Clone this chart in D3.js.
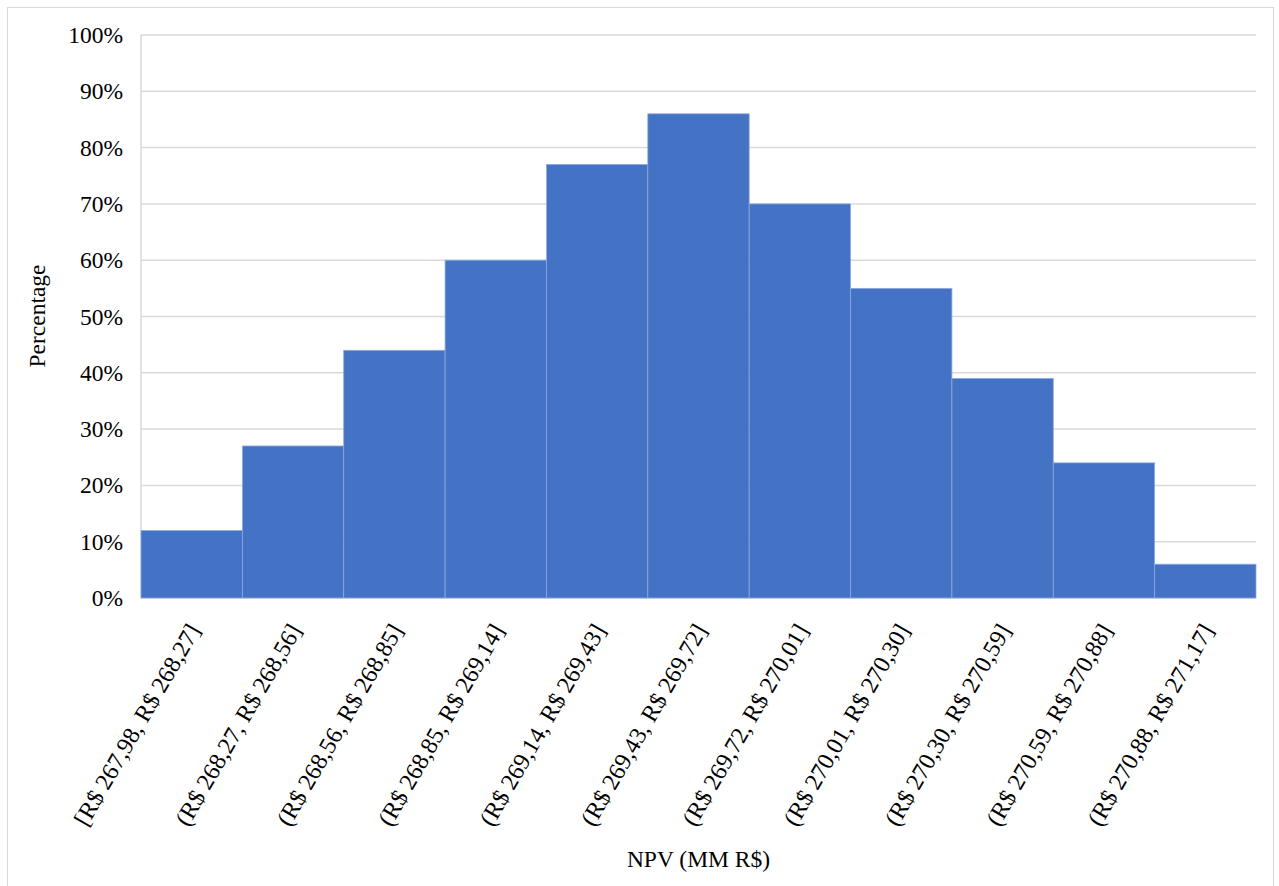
<!DOCTYPE html>
<html>
<head>
<meta charset="utf-8">
<script src="https://cdn.jsdelivr.net/npm/d3@7"></script>
<style>
  html, body { margin: 0; padding: 0; background: #fff; }
  svg text { font-family: "Liberation Serif", "Times New Roman", serif; fill: #000; }
</style>
</head>
<body>
<svg id="chart" width="1279" height="886"></svg>
<script>
// Bin labels (NPV intervals)
const bins = [
  "[R$ 267,98, R$ 268,27]",
  "(R$ 268,27, R$ 268,56]",
  "(R$ 268,56, R$ 268,85]",
  "(R$ 268,85, R$ 269,14]",
  "(R$ 269,14, R$ 269,43]",
  "(R$ 269,43, R$ 269,72]",
  "(R$ 269,72, R$ 270,01]",
  "(R$ 270,01, R$ 270,30]",
  "(R$ 270,30, R$ 270,59]",
  "(R$ 270,59, R$ 270,88]",
  "(R$ 270,88, R$ 271,17]"
];

// Percentage per bin
const percents = [12, 27, 44, 60, 77, 86, 70, 55, 39, 24, 6];

// Y ticks
const yTicks = [0, 10, 20, 30, 40, 50, 60, 70, 80, 90, 100];

const W = 1279, H = 886;
const plot = { left: 141, right: 1256, top: 35, bottom: 598 };
const fontSize = 23.5;

const svg = d3.select("#chart");

// Outer chart border
svg.append("rect")
  .attr("x", 7.5).attr("y", 7.5)
  .attr("width", 1266).attr("height", H + 10)
  .attr("fill", "none")
  .attr("stroke", "#d9d9d9")
  .attr("stroke-width", 1);

const x = d3.scaleBand()
  .domain(bins)
  .range([plot.left, plot.right])
  .padding(0);

const y = d3.scaleLinear()
  .domain([0, 100])
  .range([plot.bottom, plot.top]);

// Gridlines
svg.append("g")
  .selectAll("line")
  .data(yTicks)
  .enter()
  .append("line")
  .attr("x1", plot.left)
  .attr("x2", plot.right)
  .attr("y1", d => y(d))
  .attr("y2", d => y(d))
  .attr("stroke", "#d9d9d9")
  .attr("stroke-width", 1.5);

// Left axis line
svg.append("line")
  .attr("x1", plot.left).attr("x2", plot.left)
  .attr("y1", plot.top).attr("y2", plot.bottom)
  .attr("stroke", "#d9d9d9")
  .attr("stroke-width", 1.5);

// Bars
svg.append("g")
  .selectAll("rect")
  .data(percents)
  .enter()
  .append("rect")
  .attr("x", (d, i) => x(bins[i]))
  .attr("y", d => y(d))
  .attr("width", x.bandwidth())
  .attr("height", d => plot.bottom - y(d))
  .attr("fill", "#4472c4")
  .attr("stroke", "#8eaadb")
  .attr("stroke-width", 0.8);

// Y tick labels
const yAxis = d3.axisLeft(y)
  .tickValues(yTicks)
  .tickFormat(d => d + "%")
  .tickSize(0)
  .tickPadding(18);

const gy = svg.append("g")
  .attr("transform", `translate(${plot.left},0)`)
  .call(yAxis);
gy.select(".domain").remove();
gy.selectAll("text")
  .style("font-size", fontSize + "px")
  .attr("fill", "#000");

// X tick labels (rotated)
svg.append("g")
  .selectAll("text")
  .data(bins)
  .enter()
  .append("text")
  .attr("transform", d => `translate(${x(d) + x.bandwidth() / 2 + 2},${plot.bottom + 28}) rotate(-60)`)
  .attr("text-anchor", "end")
  .attr("dy", "0.35em")
  .style("font-size", "24px")
  .text(d => d);

// Axis titles
svg.append("text")
  .attr("transform", `translate(37,316) rotate(-90)`)
  .attr("text-anchor", "middle")
  .attr("dy", "0.35em")
  .style("font-size", fontSize + "px")
  .text("Percentage");

svg.append("text")
  .attr("x", (plot.left + plot.right) / 2)
  .attr("y", 867)
  .attr("text-anchor", "middle")
  .style("font-size", fontSize + "px")
  .text("NPV (MM R$)");
</script>
</body>
</html>
